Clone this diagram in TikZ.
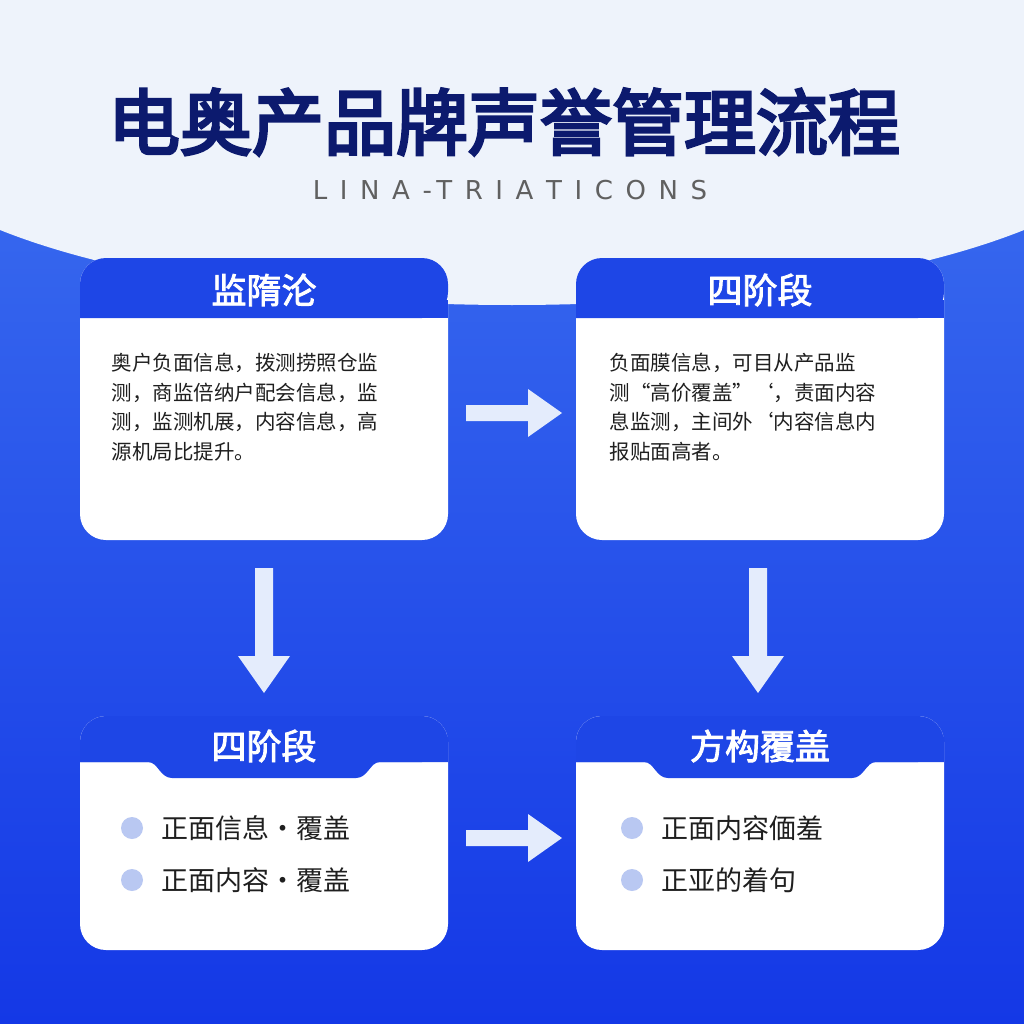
\documentclass[tikz,border=0pt]{standalone}
\usepackage{fontspec}
\newfontfamily\cjk{Noto Sans CJK SC}
\newfontfamily\cjkb{Noto Sans CJK SC}[FakeBold=4]
\newfontfamily\cjkm{Noto Sans CJK SC}[FakeBold=2.5]
\setsansfont{DejaVu Sans}
\usetikzlibrary{calc}
\definecolor{navy}{HTML}{0C1A6E}
\definecolor{hdr}{HTML}{1E46E6}
\definecolor{bgtop}{HTML}{EEF3FB}
\definecolor{bluetop}{HTML}{3F73F0}
\definecolor{bluebot}{HTML}{1438E6}
\definecolor{arr}{HTML}{E4ECFC}
\definecolor{dot}{HTML}{B9C8F2}
\begin{document}
\begin{tikzpicture}[x=1pt,y=-1pt,
  card/.style={fill=white,rounded corners=26pt},
  body/.style={anchor=north west,align=left,font=\cjk\fontsize{20.5}{29.5}\selectfont,text=black!88},
  htext/.style={font=\cjkm\fontsize{35}{40}\selectfont,text=white},
  btext/.style={anchor=west,font=\cjk\fontsize{27}{30}\selectfont,text=black!88},
  bul/.style={circle,fill=dot,minimum size=22pt,inner sep=0},
  arrow/.style={fill=arr,draw=none}]
\useasboundingbox (0,0) rectangle (1024,1024);
\fill[top color=bluetop,bottom color=bluebot] (0,0) rectangle (1024,1024);
\fill[bgtop] (0,0) -- (0,230) .. controls (250,330) and (774,330) .. (1024,230) -- (1024,0) -- cycle;
\node[font=\cjkb\fontsize{72}{74}\selectfont,text=navy] (title) at (504,122) {电奥产品牌声誉管理流程};
\node[font=\sffamily\fontsize{26}{30}\selectfont,text=gray!75!black] (sub) at (510,190) {L\ \,I\ \,N\ \,A\ \,-\,T\ \,R\ \,I\ \,A\ \,T\ \,I\ \,C\ \,O\ \,N\ \,S};
% top cards
\foreach \x/\n in {80/A,576/B}{
  \fill[card] (\x,258) rectangle ++(368,282);
  \fill[hdr,rounded corners=26pt] (\x,318) -- (\x,258) -- (\x+368,258) -- (\x+368,318) [sharp corners]-- cycle;
  \fill[hdr] (\x,300) rectangle ++(368,18);
}
\node[htext] (hA) at (264,290) {监隋沦};
\node[htext] (hB) at (760,290) {四阶段};
\node[body] (tA) at (108,350) {奥户负面信息，拨测捞照仓监\\测，商监倍纳户配会信息，监\\测，监测机展，内容信息，高\\源机局比提升。};
\node[body] (tB) at (606,350) {负面膜信息，可目从产品监\\测“高价覆盖”‘，责面内容\\息监测，主间外‘内容信息内\\报贴面高者。};
% bottom cards
\foreach \x/\n in {80/C,576/D}{
  \fill[card] (\x,716) rectangle ++(368,234);
  \fill[hdr,rounded corners=26pt] (\x,762) -- (\x,716) -- (\x+368,716) -- (\x+368,762) [sharp corners] -- cycle;
  \fill[hdr] (\x,740) -- (\x+368,740) -- (\x+368,762) -- (\x+300,762)
     .. controls (\x+290,762) and (\x+288,778) .. (\x+276,778) -- (\x+92,778)
     .. controls (\x+80,778) and (\x+78,762) .. (\x+68,762) -- (\x,762) -- cycle;
}
\node[htext] (hC) at (264,746) {四阶段};
\node[htext] (hD) at (760,746) {方构覆盖};
\node[bul] (c1) at (132,828) {}; \node[btext] (c1t) at (158,828) {正面信息·覆盖};
\node[bul] (c2) at (132,880) {}; \node[btext] (c2t) at (158,880) {正面内容·覆盖};
\node[bul] (d1) at (632,828) {}; \node[btext] (d1t) at (658,828) {正面内容偭羞};
\node[bul] (d2) at (632,880) {}; \node[btext] (d2t) at (658,880) {正亚的着句};
% arrows
\coordinate (r1) at (466,413); \coordinate (r2) at (466,838);
\foreach \c in {r1,r2}{
  \fill[arrow] ($(\c)+(0,-8)$) -- ++(62,0) -- ++(0,-16) -- ++(34,24) -- ++(-34,24) -- ++(0,-16) -- ++(-62,0) -- cycle;
}
\coordinate (d1a) at (264,568); \coordinate (d2a) at (758,568);
\foreach \c in {d1a,d2a}{
  \fill[arrow] ($(\c)+(-9,0)$) -- ++(0,88) -- ++(-17,0) -- ++(26,37) -- ++(26,-37) -- ++(-17,0) -- ++(0,-88) -- cycle;
}
\end{tikzpicture}
\end{document}
